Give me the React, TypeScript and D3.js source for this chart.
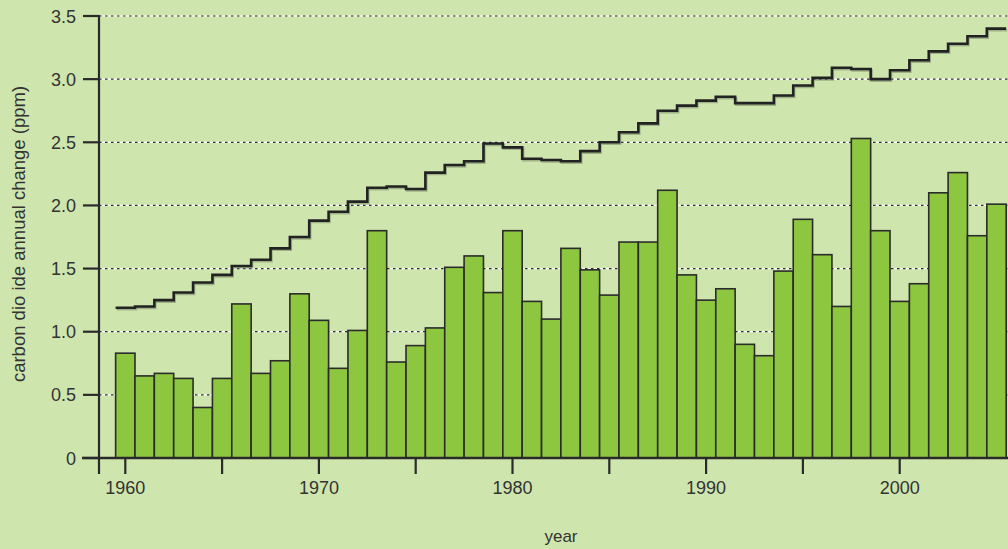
import React from "react";
import * as d3 from "d3";

const years: number[] = d3.range(1960, 2006);
const annualChange: number[] = [
  0.83, 0.65, 0.67, 0.63, 0.4, 0.63, 1.22, 0.67, 0.77, 1.3,
  1.09, 0.71, 1.01, 1.8, 0.76, 0.89, 1.03, 1.51, 1.6, 1.31,
  1.8, 1.24, 1.1, 1.66, 1.49, 1.29, 1.71, 1.71, 2.12, 1.45,
  1.25, 1.34, 0.9, 0.81, 1.48, 1.89, 1.61, 1.2, 2.53, 1.8,
  1.24, 1.38, 2.1, 2.26, 1.76, 2.01,
];
const runningMean: number[] = [
  1.19, 1.2, 1.25, 1.31, 1.39, 1.45, 1.52, 1.57, 1.66, 1.75,
  1.88, 1.95, 2.03, 2.14, 2.15, 2.13, 2.26, 2.32, 2.35, 2.49,
  2.46, 2.37, 2.36, 2.35, 2.43, 2.5, 2.58, 2.65, 2.75, 2.79,
  2.83, 2.86, 2.81, 2.81, 2.87, 2.95, 3.01, 3.09, 3.08, 3.0,
  3.07, 3.15, 3.22, 3.28, 3.34, 3.4,
];
const yTicks: number[] = [0, 0.5, 1.0, 1.5, 2.0, 2.5, 3.0, 3.5];
const xMinorTicks: number[] = d3.range(1960, 2001, 5);
const xLabelTicks: number[] = [1960, 1970, 1980, 1990, 2000];

const W = 1008;
const H = 549;

export default function App() {
  const x = d3.scaleLinear().domain([1960, 2000]).range([125.3, 899.7]);
  const y = d3.scaleLinear().domain([0, 3.5]).range([458, 16]);
  const bw = x(1961) - x(1960);
  const fmt = (v: number) => (v === 0 ? "0" : d3.format(".1f")(v));

  const linePts: [number, number][] = [];
  years.forEach((yr, i) => {
    linePts.push([x(yr) - bw / 2, y(runningMean[i])]);
    linePts.push([x(yr) + bw / 2, y(runningMean[i])]);
  });
  const lineGen = d3.line();
  const font = "'Liberation Sans', Arial, sans-serif";

  return (
    <svg width={W} height={H} style={{ position: "absolute", left: 0, top: 0, background: "#cfe5ae" }}>
      <rect x={0} y={0} width={W} height={H} fill="#cfe5ae" />
      {/* grid */}
      {yTicks.filter((t) => t > 0).map((t) => (
        <g key={"g" + t}>
          <line x1={99} x2={W} y1={y(t)} y2={y(t)} stroke="#ffffff" strokeWidth={1.2} />
          <line x1={99} x2={W} y1={y(t)} y2={y(t)} stroke="#2a2a2a" strokeWidth={1.2} strokeDasharray="2.5,3.5" />
        </g>
      ))}
      {/* bars */}
      {years.map((yr, i) => (
        <rect
          key={yr}
          x={x(yr) - bw / 2}
          y={y(annualChange[i])}
          width={bw}
          height={y(0) - y(annualChange[i])}
          fill="#8dc63f"
          stroke="#2b2b2b"
          strokeWidth={1.6}
        />
      ))}
      {/* step line */}
      <path d={lineGen(linePts.map(([a, b]) => [a + 1, b + 1.5])) || ""} fill="none" stroke="#6f7d60" strokeWidth={2.5} opacity={0.5} />
      <path d={lineGen(linePts) || ""} fill="none" stroke="#222" strokeWidth={2.6} />
      {/* axes */}
      <line x1={99} x2={99} y1={15} y2={474} stroke="#2a2a2a" strokeWidth={2.2} />
      <line x1={82} x2={W} y1={458} y2={458} stroke="#2a2a2a" strokeWidth={2.5} />
      {yTicks.map((t) => (
        <g key={"y" + t}>
          <line x1={83} x2={99} y1={y(t)} y2={y(t)} stroke="#2a2a2a" strokeWidth={2.2} />
          <text x={76} y={y(t) + 6.5} textAnchor="end" fontFamily={font} fontSize={18} fill="#333">
            {fmt(t)}
          </text>
        </g>
      ))}
      {xMinorTicks.map((t) => (
        <line key={"x" + t} x1={x(t)} x2={x(t)} y1={458} y2={474} stroke="#2a2a2a" strokeWidth={2.2} />
      ))}
      {xLabelTicks.map((t) => (
        <text key={"xl" + t} x={x(t)} y={494} textAnchor="middle" fontFamily={font} fontSize={18} fill="#333">
          {t}
        </text>
      ))}
      <text x={561} y={542} textAnchor="middle" fontFamily={font} fontSize={17} fill="#333">
        year
      </text>
      <text
        transform={`translate(25,234) rotate(-90)`}
        textAnchor="middle"
        fontFamily={font}
        fontSize={18.5}
        fill="#333"
      >
        carbon dio ide annual change (ppm)
      </text>
    </svg>
  );
}
